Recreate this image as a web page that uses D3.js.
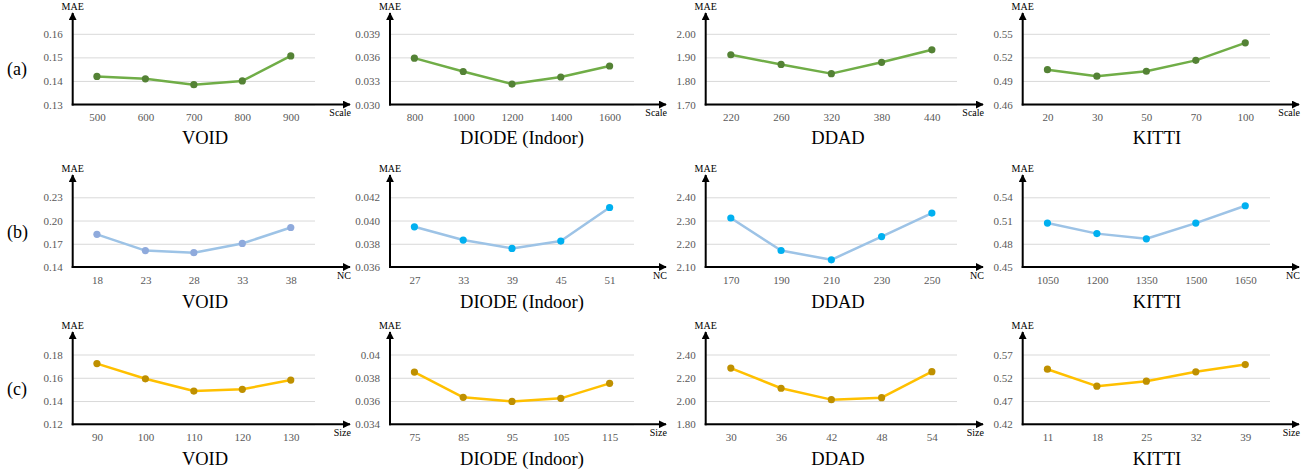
<!DOCTYPE html>
<html>
<head>
<meta charset="utf-8">
<script src="https://cdn.jsdelivr.net/npm/d3@7"></script>
<style>
  body { margin: 0; background: #fff; }
  svg text { font-family: "Liberation Serif", "DejaVu Serif", "Times New Roman", serif; }
  .grid .domain { display: none; }
  .grid line { stroke: #d9d9d9; stroke-width: 1; }
  .grid text { fill: #595959; font-size: 11px; }
  .xax .domain { display: none; }
  .xax line { display: none; }
  .xax text { fill: #595959; font-size: 11px; }
</style>
</head>
<body>
<div id="chart"></div>
<script>
// dataset titles (columns)
const datasets = ["VOID", "DIODE (Indoor)", "DDAD", "KITTI"];

// row (a): Scale
const scaleCats = [[500, 600, 700, 800, 900], [800, 1000, 1200, 1400, 1600], [220, 260, 320, 380, 440], [20, 30, 50, 70, 100]];
const scaleMAE = [[0.1419, 0.1409, 0.1384, 0.1400, 0.1506], [0.0359, 0.0342, 0.0326, 0.0335, 0.0349], [1.911, 1.870, 1.831, 1.879, 1.932], [0.5043, 0.4960, 0.5023, 0.5162, 0.5385]];
const scaleTicks = [["0.13", "0.14", "0.15", "0.16"], ["0.030", "0.033", "0.036", "0.039"], ["1.70", "1.80", "1.90", "2.00"], ["0.46", "0.49", "0.52", "0.55"]];

// row (b): NC
const ncCats = [[18, 23, 28, 33, 38], [27, 33, 39, 45, 51], [170, 190, 210, 230, 250], [1050, 1200, 1350, 1500, 1650]];
const ncMAE = [[0.1822, 0.1612, 0.1585, 0.1704, 0.1910], [0.03946, 0.03832, 0.0376, 0.03823, 0.04112], [2.311, 2.171, 2.131, 2.231, 2.332], [0.5067, 0.4931, 0.4864, 0.5067, 0.5291]];
const ncTicks = [["0.14", "0.17", "0.20", "0.23"], ["0.036", "0.038", "0.040", "0.042"], ["2.10", "2.20", "2.30", "2.40"], ["0.45", "0.48", "0.51", "0.54"]];

// row (c): Size
const sizeCats = [[90, 100, 110, 120, 130], [75, 85, 95, 105, 115], [30, 36, 42, 48, 54], [11, 18, 25, 32, 39]];
const sizeMAE = [[0.1722, 0.1591, 0.1486, 0.1501, 0.1580], [0.03849, 0.03632, 0.03597, 0.03623, 0.03752], [2.283, 2.110, 2.012, 2.029, 2.252], [0.5384, 0.5020, 0.5127, 0.5328, 0.5484]];
const sizeTicks = [["0.12", "0.14", "0.16", "0.18"], ["0.034", "0.036", "0.038", "0.04"], ["1.80", "2.00", "2.20", "2.40"], ["0.42", "0.47", "0.52", "0.57"]];

const width = 1312, height = 472;
const serif = "'Liberation Serif', 'DejaVu Serif', 'Times New Roman', serif";

const svg = d3.select("#chart").append("svg")
  .attr("width", width)
  .attr("height", height)
  .attr("font-family", serif);

svg.append("defs").append("marker")
  .attr("id", "arrow")
  .attr("viewBox", "0 0 10 10")
  .attr("refX", 9).attr("refY", 5)
  .attr("markerWidth", 4).attr("markerHeight", 4)
  .attr("orient", "auto")
  .append("path")
  .attr("d", "M0,0 L10,5 L0,10 z")
  .attr("fill", "#000");

// layout of columns / rows
const cols = [
  { x0: 72.7, x1: 315, arrowEnd: 350, titleX: 205 },
  { x0: 390, x1: 634, arrowEnd: 666, titleX: 522 },
  { x0: 705.7, x1: 957, arrowEnd: 983, titleX: 838 },
  { x0: 1022.7, x1: 1270, arrowEnd: 1299, titleX: 1157 }
];

const rows = [
  { tag: "(a)", label: "Scale", cats: scaleCats, vals: scaleMAE, ticks: scaleTicks, top: 33.8, bottom: 104.5, arrowTop: 13, titleY: 138,
    line: "#70ad47", dot: ["#548235", "#548235", "#548235", "#548235"] },
  { tag: "(b)", label: "NC", cats: ncCats, vals: ncMAE, ticks: ncTicks, top: 197.3, bottom: 267, arrowTop: 175, titleY: 301.7,
    line: "#9dc3e6", dot: ["#8faadc", "#00b0f0", "#00b0f0", "#00b0f0"] },
  { tag: "(c)", label: "Size", cats: sizeCats, vals: sizeMAE, ticks: sizeTicks, top: 354.5, bottom: 424.3, arrowTop: 332, titleY: 458.7,
    line: "#ffc000", dot: ["#bf9000", "#bf9000", "#bf9000", "#bf9000"] }
];

rows.forEach((r) => {
  // row tag
  svg.append("text")
    .attr("x", 7)
    .attr("y", (r.top + r.bottom) / 2 + 6)
    .attr("font-size", 18)
    .attr("fill", "#000")
    .text(r.tag);

  cols.forEach((c, j) => {
    const g = svg.append("g");
    const tv = r.ticks[j].map(Number);

    const x = d3.scalePoint()
      .domain(r.cats[j])
      .range([c.x0, c.x1])
      .padding(0.5);
    const y = d3.scaleLinear()
      .domain([tv[0], tv[tv.length - 1]])
      .range([r.bottom, r.top]);

    // gridlines + y tick labels
    g.append("g")
      .attr("class", "grid")
      .attr("transform", `translate(${c.x0},0)`)
      .call(d3.axisLeft(y)
        .tickValues(tv)
        .tickSize(-(c.x1 - c.x0))
        .tickPadding(10)
        .tickFormat((d, i) => r.ticks[j][i]))
      .attr("font-family", serif);

    // x tick labels
    g.append("g")
      .attr("class", "xax")
      .attr("transform", `translate(0,${r.bottom})`)
      .call(d3.axisBottom(x).tickSize(0).tickPadding(9))
      .attr("font-family", serif);

    // axes with arrows
    g.append("line")
      .attr("x1", c.x0).attr("x2", c.x0)
      .attr("y1", r.bottom + 1).attr("y2", r.arrowTop)
      .attr("stroke", "#000").attr("stroke-width", 2)
      .attr("marker-end", "url(#arrow)");
    g.append("line")
      .attr("x1", c.x0 - 1).attr("x2", c.arrowEnd)
      .attr("y1", r.bottom).attr("y2", r.bottom)
      .attr("stroke", "#000").attr("stroke-width", 2)
      .attr("marker-end", "url(#arrow)");

    g.append("text")
      .attr("x", c.x0)
      .attr("y", r.arrowTop - 3)
      .attr("text-anchor", "middle")
      .attr("font-size", 10)
      .attr("fill", "#000")
      .text("MAE");

    g.append("text")
      .attr("x", c.arrowEnd + 1)
      .attr("y", r.bottom + 11.5)
      .attr("text-anchor", "end")
      .attr("font-size", 10)
      .attr("fill", "#000")
      .text(r.label);

    // series
    const pts = r.cats[j].map((k, i) => [k, r.vals[j][i]]);
    g.append("path")
      .datum(pts)
      .attr("fill", "none")
      .attr("stroke", r.line)
      .attr("stroke-width", 2.5)
      .attr("stroke-linejoin", "round")
      .attr("d", d3.line().x((d) => x(d[0])).y((d) => y(d[1])));

    g.selectAll("circle")
      .data(pts)
      .join("circle")
      .attr("cx", (d) => x(d[0]))
      .attr("cy", (d) => y(d[1]))
      .attr("r", 3.6)
      .attr("fill", r.dot[j]);

    // dataset title
    g.append("text")
      .attr("x", c.titleX)
      .attr("y", r.titleY + 6)
      .attr("text-anchor", "middle")
      .attr("font-size", 18.5)
      .attr("fill", "#000")
      .text(datasets[j]);
  });
});
</script>
</body>
</html>
